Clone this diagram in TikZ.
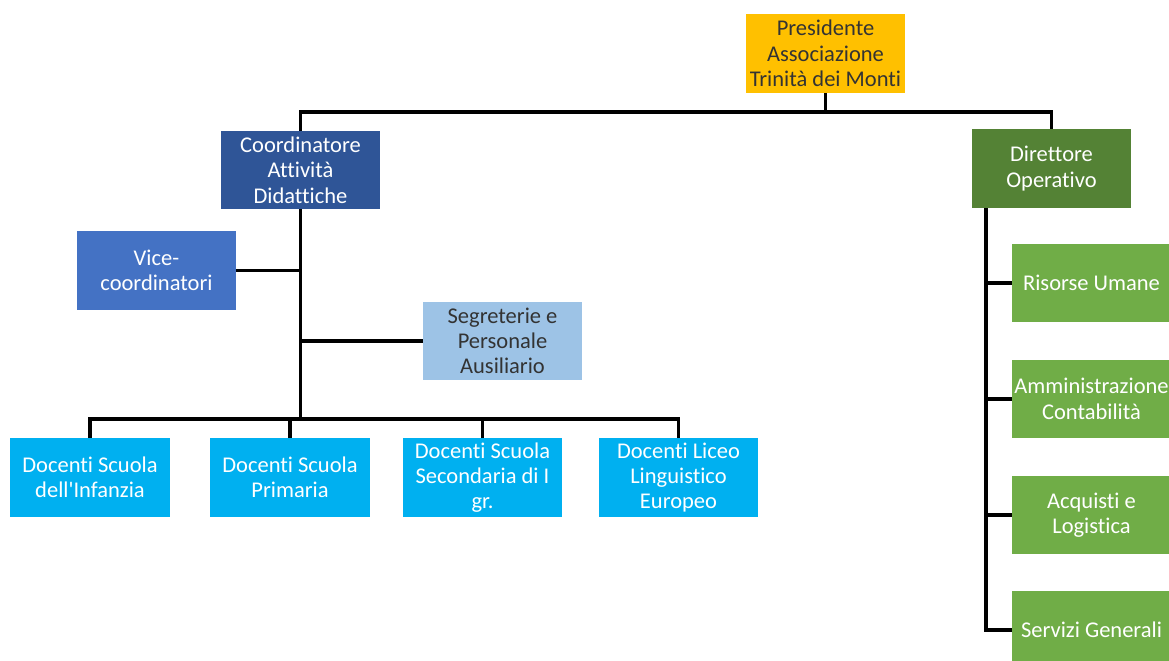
\documentclass[tikz,border=0pt]{standalone}
\usepackage{fontspec}
\setmainfont[Ligatures=NoCommon]{Carlito}
\usepackage{xcolor}
\definecolor{Pres_Gold}{HTML}{FFC000}
\definecolor{Coord_Navy}{HTML}{2F5597}
\definecolor{Vice_Blue}{HTML}{4472C4}
\definecolor{Segr_Sky}{HTML}{9DC3E6}
\definecolor{Doc_Cyan}{HTML}{00B0F0}
\definecolor{Dir_Green}{HTML}{548235}
\definecolor{Op_Green}{HTML}{70AD47}

\tikzset{
  orgbox/.style={rectangle, minimum width=3.975cm, minimum height=1.95cm, inner sep=0pt,
    align=center, font=\fontsize{16}{18}\selectfont, text=white},
  link/.style={line width=2.4pt, black}
}

\begin{document}
\begin{tikzpicture}[x=0.025cm, y=-0.025cm]

        % --- Page frame ---
        \fill[white] (0,0) rectangle (1169,661);
        \useasboundingbox (0,0) rectangle (1169,661);

        % --- Top level ---
        \node[orgbox, fill=Pres_Gold, text=black!80] (pres) at (825.5,53.5) {Presidente\\Associazione\\Trinità dei Monti};
        \node[orgbox, fill=Coord_Navy] (coord) at (300.5,170) {Coordinatore\\Attività\\Didattiche};
        \node[orgbox, fill=Dir_Green] (dir) at (1051.5,168.5) {Direttore\\Operativo};

        % --- Didactic branch ---
        \node[orgbox, fill=Vice_Blue] (vice) at (156.5,270.5) {Vice-\\coordinatori};
        \node[orgbox, fill=Segr_Sky, text=black!80] (segr) at (502.5,341) {Segreterie e\\Personale\\Ausiliario};

        \node[orgbox, fill=Doc_Cyan] (infanzia) at (90,477.5) {Docenti Scuola\\dell\textquotesingle Infanzia};
        \node[orgbox, fill=Doc_Cyan] (primaria) at (290,477.5) {Docenti Scuola\\Primaria};
        \node[orgbox, fill=Doc_Cyan] (secondaria) at (482.5,477.5) {Docenti Scuola\\Secondaria di I\\gr.};
        \node[orgbox, fill=Doc_Cyan] (liceo) at (678.5,477.5) {Docenti Liceo\\Linguistico\\Europeo};

        % --- Operative branch ---
        \node[orgbox, fill=Op_Green] (risorse) at (1091.5,283) {Risorse Umane};
        \node[orgbox, fill=Op_Green] (amm) at (1091.5,399) {Amministrazione\\Contabilità};
        \node[orgbox, fill=Op_Green] (acquisti) at (1091.5,515) {Acquisti e\\Logistica};
        \node[orgbox, fill=Op_Green] (servizi) at (1091.5,630) {Servizi Generali};

        % --- Connectors ---
        \coordinate (topbus) at (825.5,112);
        \coordinate (docbus) at (300.5,419);
        \coordinate (optrunk) at (986,208.5);

        \draw[link] (pres.south) -- (topbus);
        \draw[link] (coord.north) |- (topbus) -| (dir.north);

        \draw[link] (coord.south) -- (docbus);
        \draw[link] (vice.east) -- (vice.east -| coord.south);
        \draw[link] (segr.west) -- (segr.west -| coord.south);
        \foreach \d in {infanzia, primaria, secondaria, liceo}
          \draw[link] (\d.north) |- (docbus);

        \draw[link] (optrunk) |- (servizi.west);
        \foreach \g in {risorse, amm, acquisti}
          \draw[link] (\g.west) -- (\g.west -| optrunk);

\end{tikzpicture}
\end{document}
